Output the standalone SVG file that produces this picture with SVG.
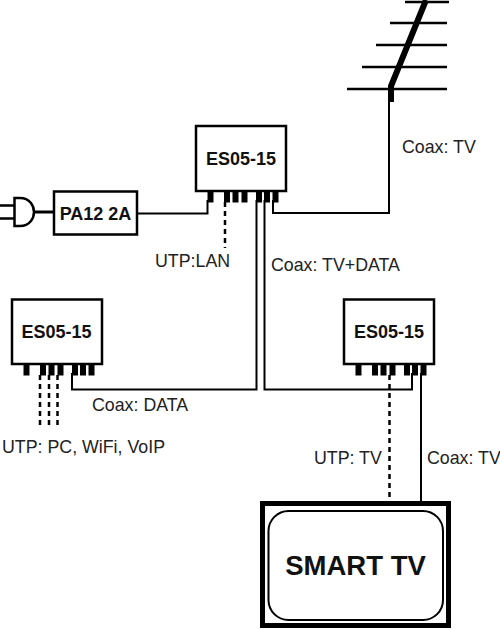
<svg xmlns="http://www.w3.org/2000/svg" width="500" height="629" viewBox="0 0 500 629">
<style>
text{font-family:"Liberation Sans",Arial,sans-serif;fill:#111}
.l{font-size:17.8px;fill:#222}
.b{font-size:18px;font-weight:bold;text-anchor:middle}
.box{fill:#fff;stroke:#000;stroke-width:2.5}
.w{fill:none;stroke:#000;stroke-width:2}
.d{fill:none;stroke:#000;stroke-width:2.5;stroke-dasharray:5 4}
.a{fill:none;stroke:#000;stroke-width:2.5}
.p{fill:#000}
</style>
<defs>
<g id="ports">
<rect class="p" x="8.500" y="0" width="6" height="11.500"/>
<rect class="p" x="25" y="0" width="6" height="11.500"/>
<rect class="p" x="33.500" y="0" width="6" height="11.500"/>
<rect class="p" x="42.500" y="0" width="6" height="11.500"/>
<rect class="p" x="57" y="0" width="6" height="11.500"/>
<rect class="p" x="65" y="0" width="6" height="11.500"/>
<rect class="p" x="73.500" y="0" width="6" height="11.500"/>
</g>
</defs>
<g id="connectors">
<path class="w" d="M207.500 200V213.500H137"/>
<path class="w" d="M273 200V213H389V100"/>
<path class="d" d="M225 202V248"/>
<path class="w" d="M256.500 200V389.500H72V373"/>
<path class="w" d="M264.500 200V389.500H412V373"/>
<path class="d" d="M40 375V427M49 375V427M57.500 375V427"/>
<path class="d" d="M389.500 375V502"/>
<path class="w" d="M421 373V502"/>
<path class="w" d="M35 212H54" style="stroke-width:3"/>
</g>
<g id="antenna">
<path class="a" d="M405 2H449M390 23H447M376 45H447M362 67H447M347 89H447"/>
<path d="M426 0L391 86V102" fill="none" stroke="#000" stroke-width="6"/>
</g>
<g id="plug">
<path d="M14.500 198H20C30 198 34 206 34 212C34 218 30 226 20 226H14.500Z" fill="#fff" stroke="#000" stroke-width="2.500"/>
<path class="a" d="M0 205.500H14M0 218.500H14"/>
</g>
<g id="pa12">
<rect class="box" x="54" y="191.500" width="83" height="43"/>
<text class="b" x="95.500" y="219.500">PA12 2A</text>
</g>
<g id="es-top">
<rect class="box" x="196" y="126" width="90" height="65"/>
<use href="#ports" x="199" y="191"/>
<text class="b" x="241" y="164.500">ES05-15</text>
</g>
<g id="es-left">
<rect class="box" x="12" y="299.500" width="90" height="64.500"/>
<use href="#ports" x="15" y="364"/>
<text class="b" x="56.500" y="338">ES05-15</text>
</g>
<g id="es-right">
<rect class="box" x="344" y="299.500" width="90" height="64.500"/>
<use href="#ports" x="347" y="364"/>
<text class="b" x="389" y="338">ES05-15</text>
</g>
<g id="tv">
<rect x="262.500" y="503.500" width="186" height="122" fill="#fff" stroke="#000" stroke-width="5"/>
<rect x="268.500" y="511" width="174.500" height="109" rx="20" fill="#fff" stroke="#000" stroke-width="2"/>
<text x="355.500" y="575" font-size="27.500" font-weight="bold" text-anchor="middle">SMART TV</text>
</g>
<g id="labels">
<text class="l" x="402" y="153">Coax: TV</text>
<text class="l" x="155" y="267">UTP:LAN</text>
<text class="l" x="271" y="271">Coax: TV+DATA</text>
<text class="l" x="92" y="411">Coax: DATA</text>
<text class="l" x="2" y="453">UTP: PC, WiFi, VoIP</text>
<text class="l" x="314" y="464">UTP: TV</text>
<text class="l" x="427" y="464">Coax: TV</text>
</g>
</svg>
